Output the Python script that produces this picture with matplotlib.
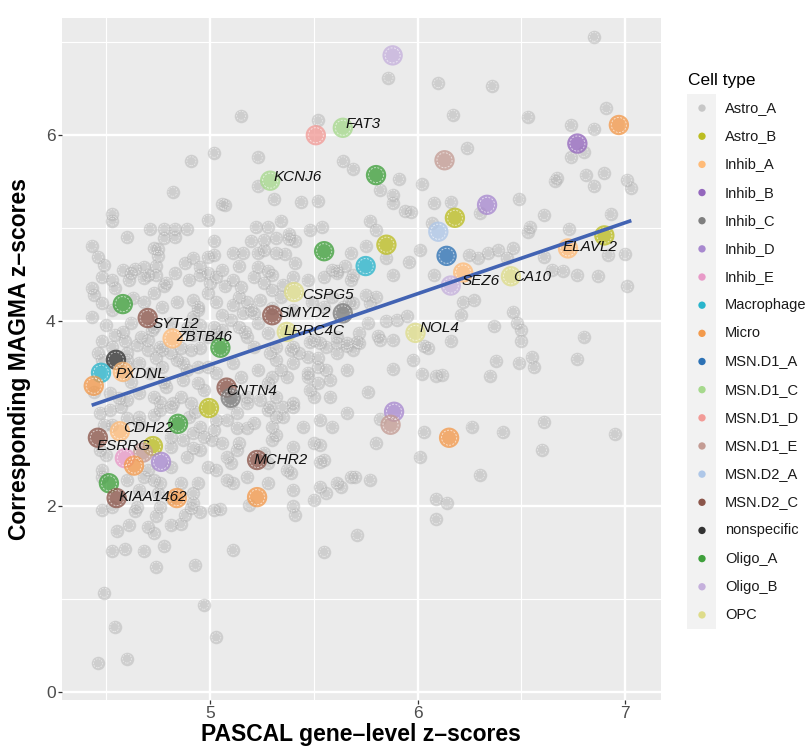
import matplotlib
matplotlib.use("Agg")
import matplotlib.pyplot as plt
from matplotlib.patches import Rectangle
import numpy as np

plt.rcParams['font.family'] = ['Liberation Sans', 'DejaVu Sans']

# ---------------- data ----------------
cell_types = ["Astro_A", "Astro_B", "Inhib_A", "Inhib_B", "Inhib_C", "Inhib_D", "Inhib_E",
              "Macrophage", "Micro", "MSN.D1_A", "MSN.D1_C", "MSN.D1_D", "MSN.D1_E",
              "MSN.D2_A", "MSN.D2_C", "nonspecific", "Oligo_A", "Oligo_B", "OPC"]
cell_colors = ["#c7c7c7", "#bcbd22", "#ffbb78", "#9467bd", "#7f7f7f", "#a889cf", "#e89ac8",
               "#29b5cc", "#f39a4c", "#2d72b5", "#a6d98d", "#f29b97", "#c49c94",
               "#aec7e8", "#8c564b", "#333333", "#3fa03c", "#c5b0dc", "#dedc8a"]

# background genes (PASCAL z, MAGMA z)
bg_x = [5.15, 5.52, 4.91, 5.02, 5.23, 5.64, 5.69, 4.82, 5.06, 5.07, 5.23, 5.31, 5.44, 5.52, 4.53, 4.53,
        4.99, 5.34, 4.71, 4.83, 4.83, 4.78, 4.89, 4.60, 5.22, 5.28, 5.38, 5.48, 5.54, 4.43, 4.46, 4.49,
        4.73, 4.75, 4.75, 5.02, 5.02, 5.11, 5.16, 5.20, 5.26, 5.23, 5.32, 5.32, 5.38, 5.41, 5.41, 5.68,
        5.65, 5.61, 4.92, 4.88, 4.95, 4.99, 5.06, 5.14, 5.23, 5.28, 4.58, 4.64, 4.68, 4.74, 4.70,
        6.85, 5.86, 6.10, 6.36, 6.17, 6.53, 6.74, 6.85, 6.91, 6.24, 6.74, 6.80, 5.91, 6.02, 5.82, 5.88,
        5.88, 5.94, 5.97, 6.08, 6.16, 6.30, 6.49, 6.67, 6.66, 6.81, 6.90, 6.85, 7.01, 7.03, 5.77, 5.80,
        6.07, 6.61, 6.54, 6.53, 6.73, 6.93, 5.75, 5.85, 5.96, 6.01, 6.08, 6.25, 6.29, 6.34, 6.39, 6.46,
        6.43, 6.61, 6.65, 6.70, 6.77, 6.87, 6.92, 7.00, 5.88, 5.69,
        7.01, 5.75, 5.80, 5.77, 5.67, 6.22, 6.27, 6.21, 5.95, 5.85, 5.90, 5.76, 6.46, 6.37, 6.48, 6.50,
        6.50, 5.81, 5.82, 5.88, 5.71, 5.66, 6.03, 6.05, 6.16, 6.80, 6.55, 6.56, 6.49, 6.77, 6.38, 5.98,
        5.88, 6.02, 6.09, 6.12, 6.35, 5.76, 5.82, 6.03, 6.26, 6.41, 6.61, 6.60, 6.95, 5.80, 6.01, 5.70,
        5.77, 6.30, 6.09, 6.14, 6.09, 5.63,
        4.48, 4.64, 4.74, 4.88, 4.91, 4.95, 5.05, 5.19, 5.40, 5.41, 4.55, 4.61, 4.70, 4.73, 4.81, 4.86,
        4.53, 4.59, 4.68, 4.78, 4.74, 4.93, 5.11, 5.55, 5.71, 4.49, 4.97, 4.54, 5.03, 4.46, 4.60,
        4.48, 4.53, 4.62, 4.68, 4.74, 4.79, 4.83, 4.90, 4.95, 5.00, 5.03, 5.11, 5.15, 5.21, 5.26, 5.30,
        5.35, 5.40, 5.47, 5.55, 5.61, 5.68, 4.44, 4.48, 4.53, 4.63, 4.73, 4.77, 4.84, 4.92, 4.94, 4.99,
        5.03, 5.11, 5.18, 5.20, 5.24, 5.30, 5.34, 5.40, 5.49, 5.55, 5.59, 5.64, 5.69, 4.43, 4.50, 4.58,
        4.62, 4.67, 4.72, 4.76, 4.81, 4.92, 4.95, 4.99, 5.10, 5.14, 5.18, 5.23, 5.28, 5.32, 5.40, 5.43,
        5.50, 5.56, 5.61, 5.66, 5.69, 4.46, 4.53, 4.60, 4.70, 4.91, 4.48, 4.60, 4.66, 4.71, 4.77, 4.84,
        4.89, 4.94, 4.99, 5.03, 5.11, 5.15, 5.23, 5.28, 5.34, 5.40, 5.47, 5.52, 5.58, 5.66, 4.66, 4.73,
        4.79, 4.86, 5.18, 5.24, 5.32, 5.40, 5.50, 4.47, 4.57, 4.66, 4.76, 4.82, 4.90, 4.95, 5.08, 5.13,
        5.21, 5.28, 5.35, 5.40, 5.45, 5.53, 5.59, 5.66, 4.81, 4.89, 4.95, 5.01, 5.08, 5.14, 5.28, 5.37,
        5.40, 5.50, 5.55, 5.61, 5.68, 4.94, 5.03, 5.11, 5.18, 5.28, 5.40, 5.50, 5.56, 4.92, 5.02, 4.48,
        4.76, 4.68,
        5.21, 5.29, 5.32, 5.39, 5.47, 5.52, 5.56, 5.61, 5.72, 5.58, 5.52, 5.48, 5.47, 5.37, 5.30, 5.18,
        5.10, 5.29, 5.35, 5.32, 5.30, 5.18, 5.13, 5.03, 5.06, 5.13, 5.30, 5.32, 5.26, 5.53, 5.53, 5.39,
        5.10, 5.08, 5.53,
        5.26, 5.36, 5.07, 5.14, 5.30, 5.59, 5.06, 5.16, 5.21, 5.17, 5.06, 5.02, 5.48, 5.53, 5.61, 5.72,
        4.78, 4.99, 4.61, 4.78, 4.54, 4.43, 4.94, 4.73, 4.68, 4.48, 4.54, 4.59, 4.70, 4.89, 4.92, 5.02,
        4.65, 4.77, 4.81, 4.86, 4.95, 4.60, 4.74, 4.87, 4.94, 4.58, 4.62, 4.78, 4.87, 4.97, 4.44, 4.52,
        4.56, 4.60, 4.76, 4.81, 4.91, 4.93, 4.52, 4.60, 4.73, 4.49, 4.53, 4.66, 4.81, 4.87, 4.92, 4.97,
        5.02, 4.92, 4.47, 4.50, 4.81, 4.70, 4.99, 4.48, 4.60, 4.73, 4.86, 4.66, 4.75, 4.81, 4.92, 4.53,
        4.65, 4.76]
bg_y = [6.21, 6.16, 5.72, 5.81, 5.76, 5.72, 5.64, 5.39, 5.26, 5.25, 5.45, 5.31, 5.28, 5.29, 5.15, 5.08,
        5.09, 5.08, 4.99, 4.99, 4.90, 4.99, 4.99, 4.90, 5.01, 5.01, 4.94, 4.98, 5.01, 4.81, 4.69, 4.60,
        4.78, 4.77, 4.70, 4.86, 4.71, 4.73, 4.73, 4.86, 4.87, 4.73, 4.89, 4.73, 4.88, 4.86, 4.62, 4.73,
        4.59, 4.54, 4.68, 4.62, 4.58, 4.52, 4.55, 4.59, 4.58, 4.54, 4.55, 4.56, 4.58, 4.59, 4.49,
        7.06, 6.62, 6.56, 6.53, 6.22, 6.20, 6.11, 6.07, 6.29, 5.86, 5.76, 5.82, 5.53, 5.47, 5.41, 5.36,
        5.27, 5.18, 5.17, 5.27, 5.28, 5.16, 5.31, 5.54, 5.51, 5.57, 5.59, 5.45, 5.52, 5.43, 5.08, 4.98,
        5.05, 5.14, 5.01, 4.96, 4.99, 5.15, 4.81, 4.68, 4.63, 4.76, 4.49, 4.71, 4.68, 4.73, 4.76, 4.78,
        4.68, 4.69, 4.55, 4.54, 4.49, 4.48, 4.71, 4.72, 4.49, 4.49,
        4.37, 4.28, 4.26, 4.19, 4.20, 4.20, 4.22, 4.06, 4.05, 4.00, 4.01, 3.98, 4.10, 3.94, 3.98, 3.90,
        3.78, 3.84, 3.79, 3.79, 3.77, 3.73, 3.73, 3.71, 3.78, 3.83, 3.61, 3.50, 3.55, 3.59, 3.57, 3.58,
        3.48, 3.43, 3.41, 3.42, 3.41, 3.23, 2.94, 2.80, 2.86, 2.80, 2.91, 2.61, 2.78, 2.68, 2.53, 2.32,
        2.29, 2.34, 2.08, 2.04, 1.86, 2.21,
        1.96, 1.95, 1.90, 1.91, 1.98, 1.94, 1.97, 2.02, 2.00, 1.91, 1.73, 1.80, 1.78, 1.71, 1.80, 1.81,
        1.52, 1.54, 1.52, 1.57, 1.35, 1.37, 1.53, 1.51, 1.69, 1.07, 0.94, 0.70, 0.59, 0.31, 0.36,
        4.47, 4.44, 4.51, 4.46, 4.49, 4.41, 4.51, 4.44, 4.49, 4.41, 4.47, 4.44, 4.36, 4.47, 4.41, 4.49,
        4.39, 4.47, 4.44, 4.47, 4.51, 4.44, 4.28, 4.19, 4.12, 4.25, 4.30, 4.15, 4.20, 4.22, 4.15, 4.30,
        4.20, 4.17, 4.20, 4.12, 4.22, 4.14, 4.26, 4.12, 4.20, 4.15, 4.26, 4.15, 4.19, 4.04, 3.95, 3.88,
        3.98, 3.83, 3.90, 3.72, 3.98, 4.04, 3.95, 3.83, 4.01, 3.93, 3.83, 3.98, 3.87, 3.72, 3.72, 3.65,
        3.79, 3.72, 3.65, 3.76, 3.69, 3.65, 3.72, 3.65, 3.69, 3.69, 3.58, 3.50, 3.55, 3.44, 3.50, 3.58,
        3.47, 3.33, 3.50, 3.44, 3.55, 3.39, 3.47, 3.33, 3.47, 3.55, 3.39, 3.50, 3.36, 3.47, 3.22, 3.18,
        3.29, 3.18, 3.18, 3.15, 3.18, 3.11, 3.18, 3.01, 3.07, 2.96, 3.04, 3.11, 2.96, 2.86, 2.93, 3.01,
        2.90, 3.04, 2.96, 3.07, 2.86, 2.93, 2.86, 3.01, 2.64, 2.53, 2.61, 2.72, 2.53, 2.68, 2.47, 2.39,
        2.64, 2.68, 2.50, 2.25, 2.32, 2.25, 2.39, 2.25, 2.32, 2.25, 2.18, 2.07, 2.14, 2.04, 1.96, 2.39,
        2.25, 2.32,
        3.72, 3.65, 3.58, 3.69, 3.61, 3.60, 3.47, 3.76, 3.76, 3.18, 3.33, 3.25, 3.44, 3.39, 3.39, 3.11,
        3.11, 3.07, 3.07, 2.96, 2.86, 2.85, 2.85, 2.93, 2.68, 2.61, 2.72, 2.77, 2.58, 2.66, 2.48, 2.36,
        2.47, 2.28, 2.21,
        4.76, 4.72, 4.37, 4.26, 4.33, 4.55, 4.06, 4.08, 4.08, 3.88, 3.90, 3.93, 3.77, 3.76, 3.83, 3.87,
        4.89, 4.69, 4.44, 4.38, 4.35, 4.35, 4.12, 3.93, 4.20, 3.78, 3.85, 3.78, 3.79, 3.92, 3.85, 3.85,
        3.74, 3.69, 3.65, 3.71, 3.71, 3.58, 3.60, 3.55, 3.50, 3.42, 3.34, 3.34, 3.36, 3.25, 3.23, 3.22,
        3.17, 3.15, 3.12, 3.07, 3.11, 3.02, 3.04, 2.95, 2.99, 2.88, 2.88, 2.90, 2.75, 2.72, 2.79, 2.75,
        2.82, 2.63, 2.61, 2.55, 2.42, 2.39, 2.42, 2.32, 2.28, 2.28, 2.25, 2.18, 2.14, 2.09, 2.14, 1.99,
        1.99, 1.99]

# highlighted genes
hl_x = [5.88, 5.51, 5.64, 6.97, 6.77, 6.13, 5.80, 5.29, 6.335, 6.18, 5.55, 5.85, 6.10, 6.14, 5.75,
        6.22, 6.45, 6.16, 6.90, 6.725, 5.405, 5.30, 5.64, 5.37, 5.99, 4.58, 4.70, 4.82, 5.05, 4.547,
        4.475, 4.44, 4.58, 5.08, 5.10, 4.995, 4.846, 4.566, 4.46, 4.725, 4.677, 4.59, 4.634, 4.764,
        4.513, 4.55, 4.84, 5.227, 5.227, 5.887, 5.87, 6.152]
hl_y = [6.86, 6.00, 6.08, 6.11, 5.91, 5.73, 5.57, 5.51, 5.25, 5.11, 4.75, 4.82, 4.96, 4.70, 4.59,
        4.52, 4.48, 4.38, 4.92, 4.78, 4.31, 4.06, 4.08, 3.88, 3.87, 4.18, 4.03, 3.81, 3.71, 3.58,
        3.44, 3.30, 3.45, 3.28, 3.17, 3.06, 2.89, 2.81, 2.74, 2.65, 2.58, 2.52, 2.44, 2.48,
        2.25, 2.09, 2.09, 2.50, 2.10, 3.02, 2.88, 2.74]
hl_type = ["Oligo_B", "MSN.D1_D", "MSN.D1_C", "Micro", "Inhib_B", "MSN.D1_E", "Oligo_A", "MSN.D1_C",
           "Inhib_D", "Astro_B", "Oligo_A", "Astro_B", "MSN.D2_A", "MSN.D1_A", "Macrophage",
           "Inhib_A", "OPC", "Oligo_B", "Astro_B", "Inhib_A", "OPC", "MSN.D2_C", "Inhib_C", "OPC",
           "OPC", "Oligo_A", "MSN.D2_C", "Inhib_A", "Oligo_A", "nonspecific",
           "Macrophage", "Micro", "Inhib_A", "MSN.D2_C", "Inhib_C", "Astro_B", "Oligo_A", "Inhib_A",
           "MSN.D2_C", "Astro_B", "MSN.D1_E", "Inhib_E", "Micro", "Inhib_D",
           "Oligo_A", "MSN.D2_C", "Micro", "MSN.D2_C", "Micro", "Inhib_D", "MSN.D1_E", "Micro"]

# gene labels
lab_gene = ["FAT3", "KCNJ6", "CSPG5", "SMYD2", "LRRC4C", "SYT12", "ZBTB46", "PXDNL", "CNTN4",
            "CDH22", "ESRRG", "KIAA1462", "MCHR2", "NOL4", "SEZ6", "CA10", "ELAVL2"]
lab_x = [5.655, 5.304, 5.443, 5.328, 5.352, 4.725, 4.84, 4.547, 5.077,
         4.581, 4.455, 4.561, 5.212, 6.012, 6.214, 6.46, 6.70]
lab_y = [6.12, 5.55, 4.28, 4.08, 3.89, 3.97, 3.83, 3.43, 3.24,
         2.84, 2.65, 2.10, 2.50, 3.92, 4.43, 4.47, 4.80]

# linear fit line
fit_x = [4.43, 7.03]
fit_y = [3.09, 5.08]

# ---------------- figure ----------------
W, H = 806, 751
fig = plt.figure(figsize=(W / 100, H / 100), dpi=100)
ax = fig.add_axes([62 / W, 1 - 700 / H, 599 / W, 682 / H])
ax.set_facecolor('#ebebeb')
for s in ax.spines.values():
    s.set_visible(False)
ax.set_xlim(4.287, 7.173)
ax.set_ylim(-0.086, 7.263)
ax.set_xticks([5, 6, 7])
ax.set_yticks([0, 2, 4, 6])
ax.set_xticks([4.5, 5.5, 6.5], minor=True)
ax.set_yticks([1, 3, 5, 7], minor=True)
ax.grid(which='major', color='white', lw=1.7)
ax.grid(which='minor', color='white', lw=0.8)
ax.set_axisbelow(True)
ax.tick_params(which='major', length=3, width=0.9, color='#333333', labelsize=12.5,
               labelcolor='#4d4d4d', pad=1.5)
ax.tick_params(which='minor', length=0)

dash = (0, (2.0, 1.5))
ax.scatter(bg_x, bg_y, s=95, c='#b3b3b3', alpha=0.5, linewidths=0, zorder=2)
ax.scatter(bg_x, bg_y, s=42, facecolors='none', edgecolors='white', alpha=0.55,
           linewidths=0.6, linestyles=[dash], zorder=2.1)

cmap = dict(zip(cell_types, cell_colors))
hl_c = [cmap[t] for t in hl_type]
ax.scatter(hl_x, hl_y, s=215, c=hl_c, alpha=0.78, linewidths=0, zorder=3)
ax.scatter(hl_x, hl_y, s=118, facecolors='none', edgecolors='white', alpha=0.6,
           linewidths=0.7, linestyles=[dash], zorder=3.1)

ax.plot(fit_x, fit_y, color='#4263b3', lw=2.6, zorder=4, solid_capstyle='butt')

for g, x, y in zip(lab_gene, lab_x, lab_y):
    ax.text(x, y, g, fontsize=11, style='italic', ha='left', va='center',
            color='#111111', zorder=5)

fig.text(361 / W, 1 - 735 / H, 'PASCAL gene\u2013level z\u2013scores', fontsize=16.5,
         fontweight='bold', ha='center', va='center')
fig.text(20 / W, 1 - 359 / H, 'Corresponding MAGMA z\u2013scores', fontsize=16.5,
         fontweight='bold', ha='center', va='center', rotation=90)

# legend
n = len(cell_types)
lg = fig.add_axes([687 / W, 1 - 629 / H, 119 / W, 535 / H])
lg.set_xlim(0, 119)
lg.set_ylim(n - 0.5, -0.5)
lg.axis('off')
lg.add_patch(Rectangle((0, -0.5), 29, n, color='#f2f2f2', lw=0))
idx = np.arange(n)
lg.scatter(np.full(n, 15), idx, s=28, c=cell_colors, linewidths=0, zorder=3)
for i, t in enumerate(cell_types):
    lg.text(38, i, t, fontsize=10.5, va='center', ha='left', color='#1a1a1a')
fig.text(688 / W, 1 - 80 / H, 'Cell type', fontsize=12.5, va='center', ha='left')

fig.savefig('out.png', dpi=100)
